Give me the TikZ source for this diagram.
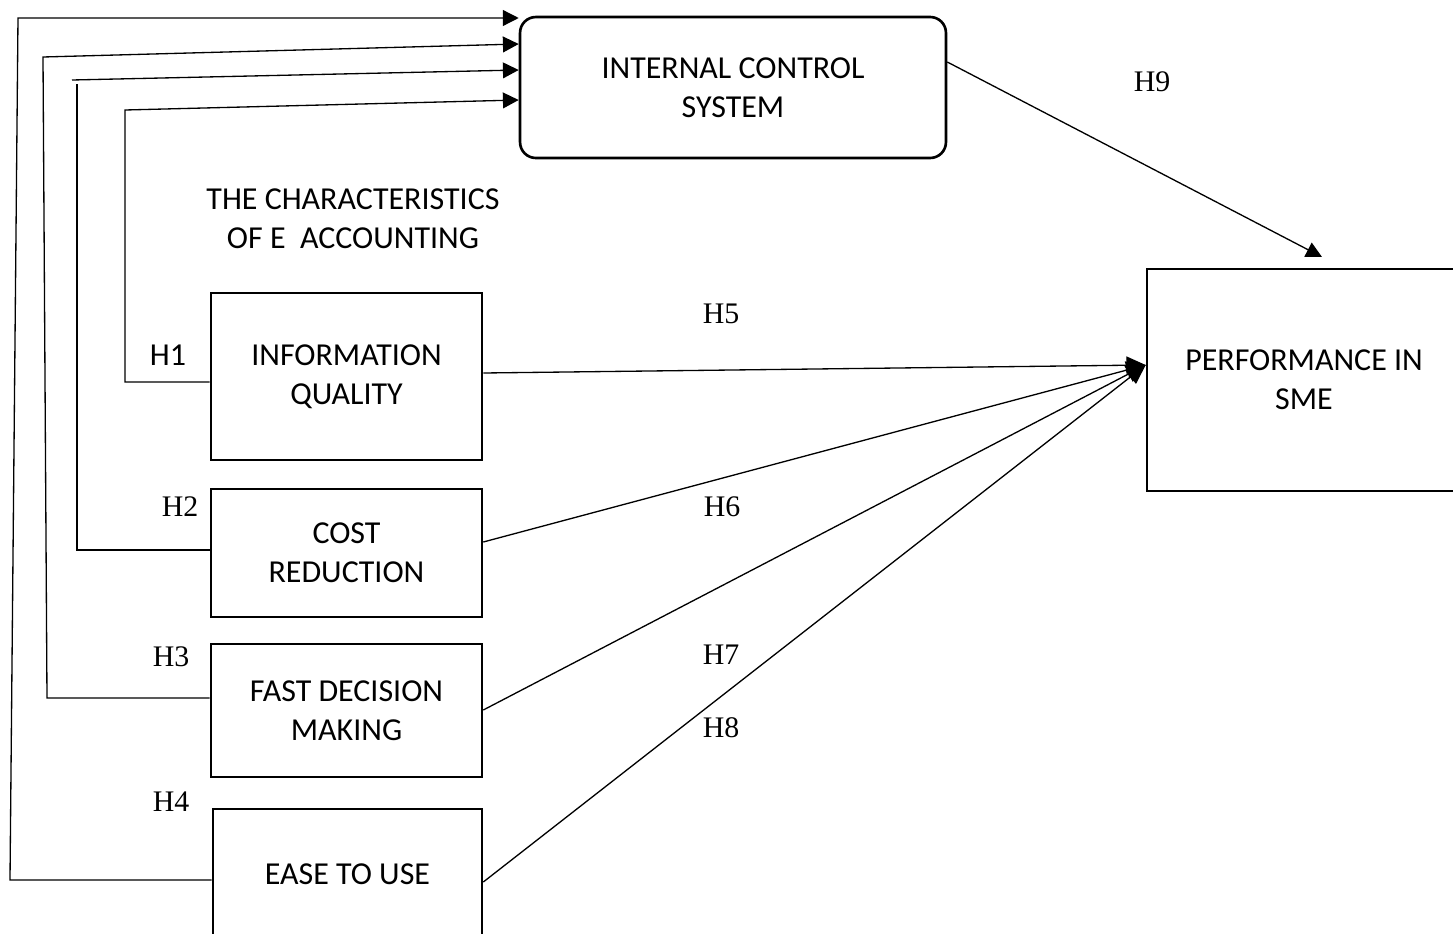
\documentclass[tikz,border=0pt]{standalone}
\usepackage{fontspec}
\setmainfont{Carlito}
\newfontfamily\hfont{Liberation Serif}
\usetikzlibrary{arrows.meta}
\begin{document}
\begin{tikzpicture}[x=0.02cm,y=-0.02cm,
  box/.style={draw, line width=1.5pt, inner sep=0pt, align=center,
    font=\fontsize{18.2}{22}\selectfont},
  conn/.style={line width=0.75pt},
  arr/.style={conn, -{Triangle[length=9pt,width=9pt]}},
  bigarr/.style={conn, -{Triangle[length=11pt,width=10pt]}},
  hyp/.style={inner sep=0pt, font=\hfont\fontsize{17}{20}\selectfont},
  lbl/.style={inner sep=0pt, align=center, font=\fontsize{18.2}{22}\selectfont}]
\clip (0,0) rectangle (1453,933);

% boxes
\node[box, rounded corners=9pt, minimum width=8.52cm, minimum height=2.82cm]
  (ics) at (733,87.5) {INTERNAL CONTROL\\SYSTEM};
\node[box, minimum width=5.42cm, minimum height=3.34cm]
  (info) at (346.5,376.5) {INFORMATION\\QUALITY};
\node[box, minimum width=5.42cm, minimum height=2.56cm]
  (cost) at (346.5,553) {COST\\REDUCTION};
\node[box, minimum width=5.42cm, minimum height=2.66cm]
  (fast) at (346.5,710.5) {FAST DECISION\\MAKING};
\node[box, minimum width=5.38cm, minimum height=2.6cm]
  (ease) at (347.5,874) {EASE TO USE};
\node[box, minimum width=6.28cm, minimum height=4.44cm]
  (perf) at (1304,380) {PERFORMANCE IN\\SME};

% group heading
\node[lbl] (head) at (353,219) {THE CHARACTERISTICS\\OF E\ \ ACCOUNTING};

% hypothesis labels
\node[lbl] (h1) at (168,355) {H1};
\node[hyp] (h2) at (180,507) {H2};
\node[hyp] (h3) at (171,657) {H3};
\node[hyp] (h4) at (171,802) {H4};
\node[hyp] (h5) at (721,314) {H5};
\node[hyp] (h6) at (722,507) {H6};
\node[hyp] (h7) at (721,655) {H7};
\node[hyp] (h8) at (721,728) {H8};
\node[hyp] (h9) at (1152,82) {H9};

% feedback lines into the internal control system
\draw[arr] (ease.west |- 0,880) -- (10,880) -- (18,18) -- (ics.west |- 0,18);
\draw[arr] (fast.west |- 0,698) -- (47,698) -- (43,57) -- (ics.west |- 0,44);
\draw[conn] (cost.west |- 0,550) -- (77,550) -- (77,84);
\draw[arr] (72,80) -- (ics.west |- 0,70);
\draw[arr] (info.west |- 0,382) -- (125,382) -- (125,110) -- (ics.west |- 0,100);

% direct effects on performance
\coordinate (pin) at (perf.west |- 0,365);
\draw[bigarr] (info.east |- 0,373) -- (pin);
\draw[bigarr] (cost.east |- 0,542) -- (pin);
\draw[bigarr] (fast.east |- 0,710) -- (pin);
\draw[bigarr] (ease.east |- 0,882) -- (pin);

% internal control to performance
\coordinate (ptop) at (1322,257);
\draw[arr] (ics.east |- 0,62) -- (ptop);
\end{tikzpicture}
\end{document}
